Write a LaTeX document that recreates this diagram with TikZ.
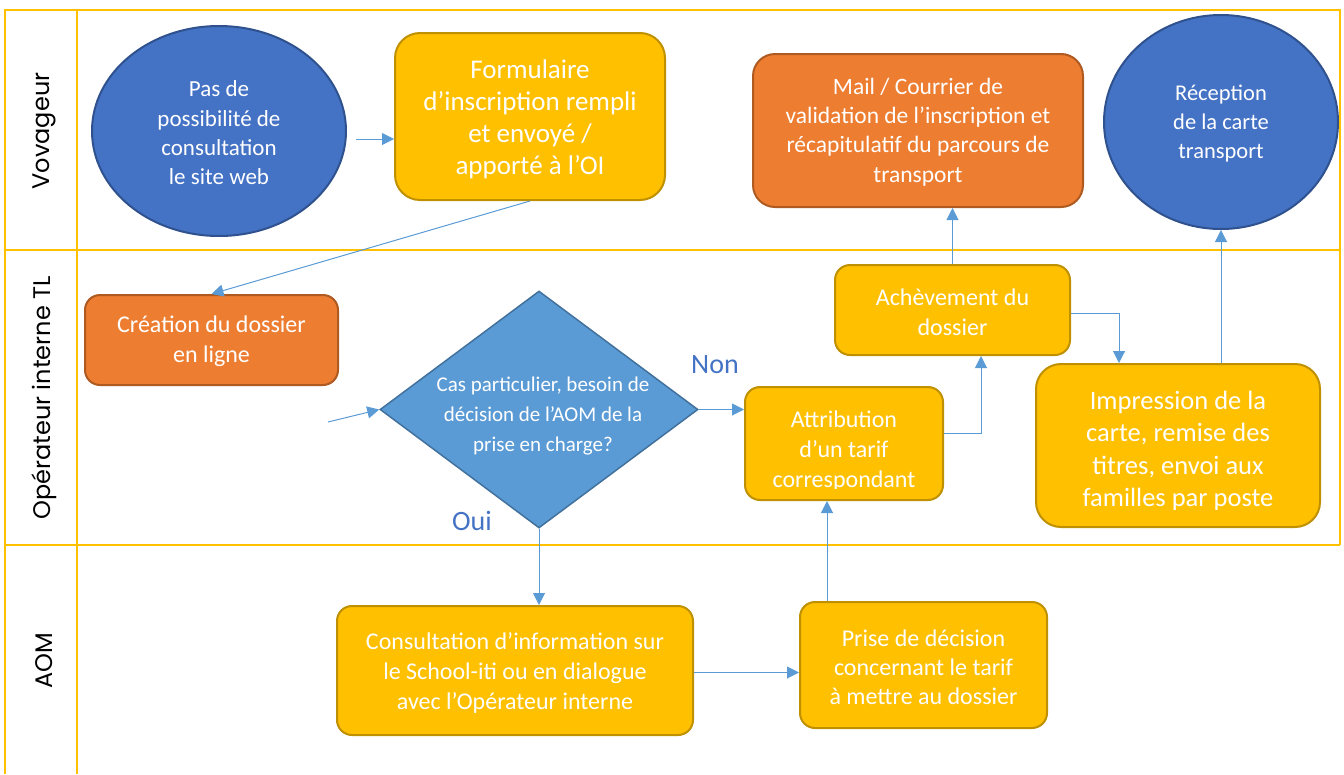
\documentclass[tikz,border=0pt]{standalone}
\usepackage{fontspec}
\setmainfont{Carlito}
\newfontfamily\lanefont{Poppins}
\usetikzlibrary{shapes.geometric,arrows.meta}
\definecolor{gold}{HTML}{FFC000}
\definecolor{ydark}{HTML}{BF9000}
\definecolor{orng}{HTML}{ED7D31}
\definecolor{odark}{HTML}{AE5A21}
\definecolor{bluec}{HTML}{4472C4}
\definecolor{bdark}{HTML}{2F528F}
\definecolor{dfill}{HTML}{5B9BD5}
\definecolor{ddark}{HTML}{41719C}
\definecolor{arrc}{HTML}{5B9BD5}
\tikzset{
  laneline/.style={draw=gold,line width=2.5pt},
  ybox/.style={draw=ydark,fill=gold,line width=2pt,rounded corners=15pt,inner sep=0pt},
  obox/.style={draw=odark,fill=orng,line width=2pt,rounded corners=15pt,inner sep=0pt},
  bcirc/.style={ellipse,draw=bdark,fill=bluec,line width=2pt,inner sep=0pt},
  txt/.style={text=white,align=center},
  arr/.style={draw=arrc,line width=1pt,-{Triangle[length=12pt,width=12pt]}},
  lanelbl/.style={rotate=90,font=\lanefont\fontsize{24}{28}\selectfont},
  answer/.style={text=bluec,font=\fontsize{28}{32}\selectfont},
}
\begin{document}
\begin{tikzpicture}[x=1pt,y=-1pt]
\useasboundingbox (0,0) rectangle (1344,774);
% lanes
\draw[laneline] (5,774) -- (5,10) -- (1340,10) -- (1340,545);
\draw[laneline] (77,10) -- (77,774);
\draw[laneline] (5,250) -- (1340,250);
\draw[laneline] (5,545) -- (1340,545);
\node[lanelbl] (l1) at (44,131) {Vovageur};
\node[lanelbl] (l2) at (44,398) {Opérateur interne TL};
\node[lanelbl] (l3) at (44,661) {AOM};

% Voyageur lane
\node[bcirc,minimum width=254pt,minimum height=210pt] (c1) at (219,131) {};
\node[txt,font=\fontsize{23}{29.3}\selectfont] (c1txt) at (219,133)
  {Pas de\\possibilité de\\consultation\\le site web};
\node[ybox,rounded corners=25pt,minimum width=270pt,minimum height=167pt] (form) at (530,116.5) {};
\node[txt,font=\fontsize{27}{32}\selectfont] (formtxt) at (530,119)
  {Formulaire\\d’inscription rempli\\et envoyé /\\apporté à l’OI};
\node[obox,rounded corners=22pt,minimum width=330pt,minimum height=153pt] (mail) at (918,130.5) {};
\node[txt,font=\fontsize{23.5}{29.3}\selectfont] (mailtxt) at (918,132)
  {Mail / Courrier de\\validation de l’inscription et\\récapitulatif du parcours de\\transport};
\node[bcirc,minimum width=234pt,minimum height=214pt] (rec) at (1221,122) {};
\node[txt,font=\fontsize{22.5}{29}\selectfont] (rectxt) at (1221,124)
  {Réception\\de la carte\\transport};

% Operateur lane
\node[obox,minimum width=253pt,minimum height=90pt] (cre) at (211.5,340) {};
\node[txt,font=\fontsize{24}{29.5}\selectfont] (cretxt) at (211.5,341)
  {Création du dossier\\en ligne};
\node[diamond,draw=ddark,fill=dfill,line width=1.5pt,minimum width=318pt,minimum height=237pt,inner sep=0pt] (dec) at (539,409.5) {};
\node[txt,font=\fontsize{21}{30}\selectfont] (dectxt) at (543,416)
  {Cas particulier, besoin de\\décision de l’AOM de la\\prise en charge?};
\node[ybox,minimum width=198pt,minimum height=113pt] (attr) at (844,443.5) {};
\begin{scope}
  \clip (attr.north west) rectangle ([shift={(0,-13)}]attr.south east);
  \node[txt,font=\fontsize{24}{30}\selectfont] (attrtxt) at (844,451) {Attribution\\d’un tarif\\correspondant};
\end{scope}
\node[ybox,minimum width=235pt,minimum height=90pt] (ach) at (952.5,310) {};
\node[txt,font=\fontsize{24}{30}\selectfont] (achtxt) at (952.5,312)
  {Achèvement du\\dossier};
\node[ybox,rounded corners=25pt,minimum width=284pt,minimum height=163pt] (imp) at (1178,445.5) {};
\begin{scope}
  \clip (imp.north west) rectangle ([shift={(0,-19)}]imp.south east);
  \node[txt,font=\fontsize{26.5}{32.5}\selectfont] (imptxt) at (1178,451) {Impression de la\\carte, remise des\\titres, envoi aux\\familles par poste};
\end{scope}

% AOM lane
\node[ybox,minimum width=356pt,minimum height=129pt] (cons) at (515,670.5) {};
\node[txt,font=\fontsize{24}{30}\selectfont] (constxt) at (515,673)
  {Consultation d’information sur\\le School-iti ou en dialogue\\avec l’Opérateur interne};
\node[ybox,minimum width=247pt,minimum height=126pt] (prise) at (923.5,665) {};
\node[txt,font=\fontsize{24}{29}\selectfont] (prisetxt) at (923.5,667)
  {Prise de décision\\concernant le tarif\\à mettre au dossier};

% labels
\node[answer] (non) at (715,365) {Non};
\node[answer] (oui) at (472,521) {Oui};

% connectors
\coordinate (in) at (328,422);
\draw[arr] ([shift={(9,8)}]c1.east) -- ([shift={(0,8)}]c1.east -| form.west);
\draw[arr] (form.south) -- (cre.north);
\draw[arr] (in) -- (dec.west);
\draw[arr] (dec.east) -- (dec.east -| attr.west);
\draw[arr] (dec.south) -- (dec.south |- cons.north);
\draw[arr] ([shift={(0,2)}]cons.east) -- ([shift={(0,2)}]cons.east -| prise.west);
\draw[arr] ([shift={(28,0)}]prise.north west) -- ([shift={(28,0)}]prise.north west |- attr.south);
\draw[arr] ([shift={(0,-10)}]attr.east) -| ([shift={(-90,0)}]ach.south east);
\draw[arr] (ach.north) -- (ach.north |- mail.south);
\draw[arr] ([shift={(0,3)}]ach.east) -| ([shift={(84,0)}]imp.north west);
\draw[arr] (rec.south |- imp.north) -- (rec.south);
\end{tikzpicture}
\end{document}
